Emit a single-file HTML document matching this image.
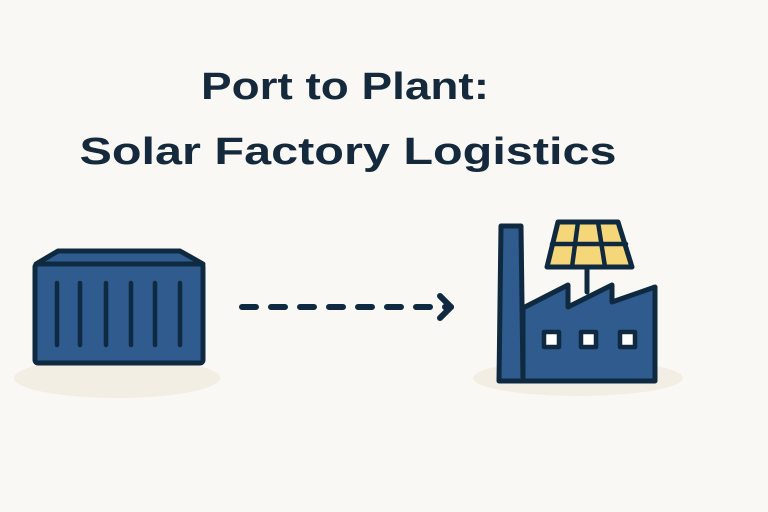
<!DOCTYPE html>
<html><head><style>
html,body{margin:0;padding:0;background:#faf8f4;}
svg{display:block}
</style></head><body>
<svg width="768" height="512" viewBox="0 0 768 512" xmlns="http://www.w3.org/2000/svg">
<rect width="768" height="512" fill="#faf8f4"/>
<text x="345" y="99" text-anchor="middle" font-family="Liberation Sans, sans-serif" font-size="38" font-weight="bold" fill="#15293d" textLength="288" lengthAdjust="spacingAndGlyphs">Port to Plant:</text>
<text x="348" y="164" text-anchor="middle" font-family="Liberation Sans, sans-serif" font-size="38" font-weight="bold" fill="#15293d" textLength="537" lengthAdjust="spacingAndGlyphs">Solar Factory Logistics</text>
<ellipse cx="117" cy="378" rx="103" ry="20" fill="#f3eee4"/>
<ellipse cx="578" cy="378" rx="105" ry="18" fill="#f3eee4"/>
<g stroke="#0f2a40" stroke-width="5" stroke-linejoin="round" stroke-linecap="round">
<path d="M36 264 L58 251 L180 251 L203 264 Z" fill="#2f5b8e"/>
<rect x="35" y="264" width="168" height="99" rx="3" fill="#2f5b8e"/>
<g stroke-width="4.5"><path d="M57 283V345M80 283V345M106 283V345M131 283V345M155 283V345M180 283V345"/></g>
<path d="M242 307H451" stroke-width="6" stroke-dasharray="14 15" fill="none"/>
<path d="M440 296L451 307L440 318" stroke-width="6" fill="none"/>
<path d="M587 267V292" stroke-width="5"/>
<path d="M523 308 L568 285 L568 307 L612 285 L612 302 L655 287 L655 381 L523 381 Z" fill="#2f5b8e"/>
<path d="M501 226 L521 226 L523 381 L499 381 Z" fill="#2f5b8e"/>
<path d="M558 222 L618 222 L632 267 L547 267 Z" fill="#f5d77a"/>
<path d="M552 244H626M578 222L572 267M598 222L605 267" stroke-width="4.5"/>
<rect x="544" y="332" width="15" height="15" fill="#fff" stroke-width="4.5"/>
<rect x="581" y="332" width="15" height="15" fill="#fff" stroke-width="4.5"/>
<rect x="620" y="332" width="15" height="15" fill="#fff" stroke-width="4.5"/>
</g>
</svg>
</body></html>
